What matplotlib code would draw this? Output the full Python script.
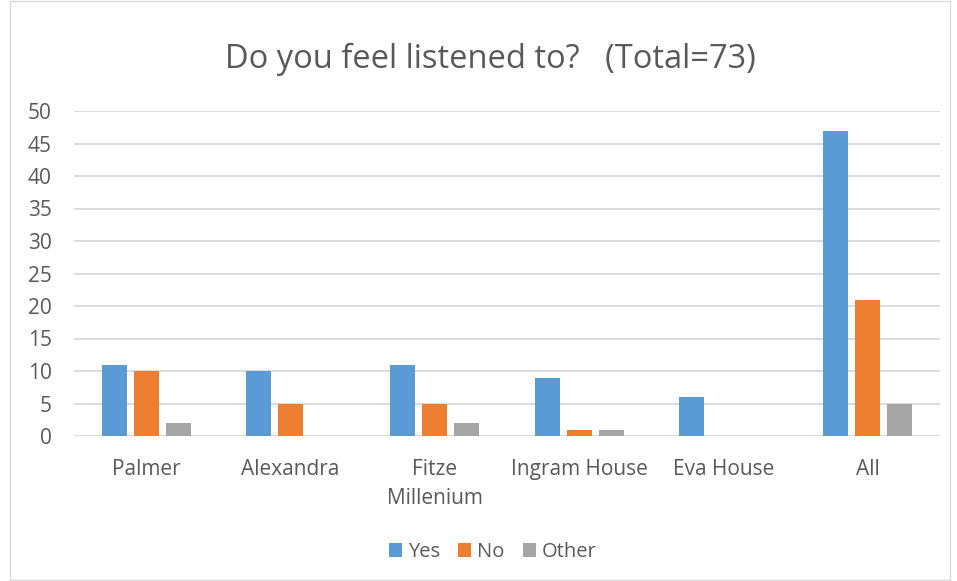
import numpy as np
import matplotlib.pyplot as plt
from matplotlib.patches import Rectangle

categories = ['Palmer', 'Alexandra', 'Fitze\nMillenium', 'Ingram House', 'Eva House', 'All']
yes = [11, 10, 11, 9, 6, 47]
no = [10, 5, 5, 1, 0, 21]
other = [2, 0, 2, 1, 0, 5]
yticks = [0, 5, 10, 15, 20, 25, 30, 35, 40, 45, 50]

plt.rcParams['font.family'] = ['Open Sans', 'DejaVu Sans']
txt = '#595959'

fig = plt.figure(figsize=(9.57, 5.81), dpi=100)
fig.patches.append(Rectangle((10 / 957, 0.002), 940 / 957, 0.996, transform=fig.transFigure,
                             fill=False, edgecolor='#d9d9d9', linewidth=1))
ax = fig.add_axes([74 / 957, 1 - 436 / 581, 866 / 957, 325 / 581])

x = np.arange(len(categories))
w = 0.173
step = 0.222
ax.bar(x - step, yes, w, color='#5b9bd5', label='Yes', zorder=3)
ax.bar(x, no, w, color='#ed7d31', label='No', zorder=3)
ax.bar(x + step, other, w, color='#a5a5a5', label='Other', zorder=3)

ax.set_xlim(-0.5, len(categories) - 0.5)
ax.set_ylim(0, 50)
ax.set_yticks(yticks)
ax.set_xticks(x)
ax.set_xticklabels(categories, linespacing=1.5)
ax.yaxis.grid(True, color='#d9d9d9', linewidth=1.3, zorder=0)
for s in ax.spines.values():
    s.set_visible(False)
ax.tick_params(axis='both', length=0, labelsize=15, colors=txt)
ax.tick_params(axis='x', pad=16.5)
ax.tick_params(axis='y', pad=16)

fig.text(0.512, 1 - 59 / 581, 'Do you feel listened to?   (Total=73)', ha='center', va='center',
         fontsize=23.5, color=txt)
fig.legend(loc='center', bbox_to_anchor=(0.515, 1 - 552 / 581), ncol=3, frameon=False,
           fontsize=14.5, labelcolor=txt, handlelength=0.65, handleheight=0.65,
           handletextpad=0.3, columnspacing=0.9)

fig.savefig('out.png')
